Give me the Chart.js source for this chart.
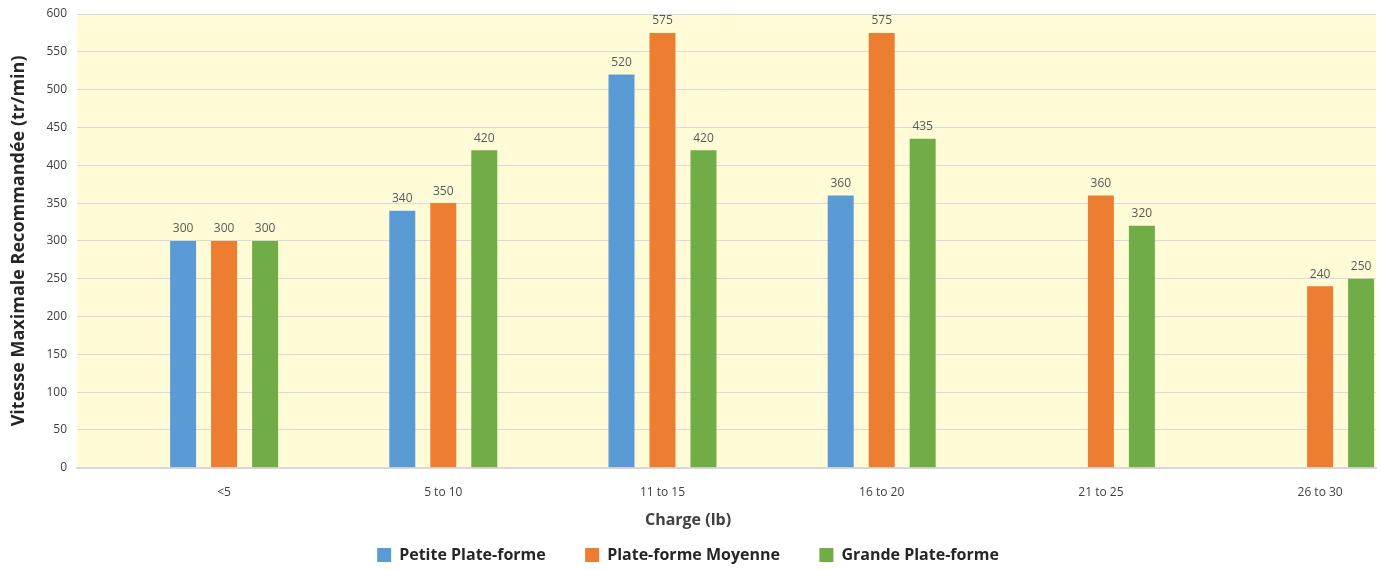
<!DOCTYPE html>
<html>
<head>
<meta charset="utf-8">
<script src="https://cdn.jsdelivr.net/npm/chart.js@4/dist/chart.umd.min.js"></script>
<style>
  html, body { margin: 0; padding: 0; background: #fff; }
  #wrap { width: 1386px; height: 570px; }
</style>
</head>
<body>
<div id="wrap"><canvas id="speedChart"></canvas></div>
<script>
const categories = ['<5', '5 to 10', '11 to 15', '16 to 20', '21 to 25', '26 to 30'];
const petite = [300, 340, 520, 360, null, null];
const moyenne = [300, 350, 575, 575, 360, 240];
const grande = [300, 420, 420, 435, 320, 250];
const seriesNames = ['Petite Plate-forme', 'Plate-forme Moyenne', 'Grande Plate-forme'];
const yTicks = [0, 50, 100, 150, 200, 250, 300, 350, 400, 450, 500, 550, 600];

const FONT = '"Open Sans", sans-serif';

const toPoints = (arr) => arr.map((v, i) => ({ x: i, y: v }));

// yellow plot background
const plotBg = {
  id: 'plotBg',
  beforeDraw(chart) {
    const { ctx, chartArea: a } = chart;
    ctx.save();
    ctx.fillStyle = '#FEFBD6';
    ctx.fillRect(a.left, a.top, a.right - a.left, a.bottom - a.top);
    ctx.restore();
  }
};

// value labels above each bar
const valueLabels = {
  id: 'valueLabels',
  afterDatasetsDraw(chart) {
    const ctx = chart.ctx;
    ctx.save();
    ctx.font = '12px ' + FONT;
    ctx.fillStyle = '#595959';
    ctx.textAlign = 'center';
    ctx.textBaseline = 'bottom';
    chart.data.datasets.forEach((ds, i) => {
      chart.getDatasetMeta(i).data.forEach((bar, j) => {
        const v = ds.data[j].y;
        if (v == null) return;
        ctx.fillText(v, bar.x, bar.y - 6);
      });
    });
    ctx.restore();
  }
};

const ctx = document.getElementById('speedChart').getContext('2d');

new Chart(ctx, {
  type: 'bar',
  data: {
    datasets: [
      { label: seriesNames[0], data: toPoints(petite), backgroundColor: '#5B9BD5' },
      { label: seriesNames[1], data: toPoints(moyenne), backgroundColor: '#ED7D31' },
      { label: seriesNames[2], data: toPoints(grande), backgroundColor: '#70AD47' }
    ]
  },
  options: {
    responsive: true,
    maintainAspectRatio: false,
    animation: false,
    categoryPercentage: 0.561,
    barPercentage: 0.634,
    layout: { padding: { top: 14, right: 10, bottom: -3, left: 0 } },
    scales: {
      x: {
        type: 'linear',
        offset: false,
        min: -0.671,
        max: 5.255,
        afterBuildTicks: (s) => { s.ticks = categories.map((c, i) => ({ value: i })); },
        afterFit: (s) => { s.height = 34; },
        grid: { display: false, drawTicks: false, offset: false },
        border: { color: '#D9D9D9', width: 2 },
        ticks: {
          padding: 18,
          color: '#404040',
          font: { family: FONT, size: 12 },
          callback: (v) => categories[v] ?? ''
        }
      },
      y: {
        min: 0,
        max: 600,
        afterBuildTicks: (s) => { s.ticks = yTicks.map(v => ({ value: v })); },
        afterFit: (s) => { s.width = 77; s.paddingTop = 0; },
        grid: { color: '#D9D9D9', drawTicks: false },
        border: { display: false },
        ticks: {
          padding: 10,
          color: '#404040',
          font: { family: FONT, size: 12 }
        },
        title: {
          display: true,
          text: 'Vitesse Maximale Recommandée (tr/min)',
          color: '#262626',
          font: { family: FONT, size: 18, weight: 'bold' },
          padding: { top: 8, bottom: 0 }
        }
      }
    },
    plugins: {
      title: {
        display: true,
        position: 'bottom',
        weight: 500,
        text: 'Charge (lb)',
        color: '#404040',
        font: { family: FONT, size: 16, weight: 'bold' },
        padding: { top: 9, bottom: 15 }
      },
      legend: {
        position: 'bottom',
        labels: {
          boxWidth: 14,
          boxHeight: 14,
          padding: 2,
          color: '#262626',
          font: { family: FONT, size: 16, weight: 'bold' },
          // trailing spaces widen the gap between the three items
          generateLabels: (chart) => {
            const items = Chart.defaults.plugins.legend.labels.generateLabels(chart);
            items.forEach((it, i) => {
              if (i < items.length - 1) it.text = it.text + '         ';
            });
            return items;
          }
        }
      },
      tooltip: { enabled: false }
    }
  },
  plugins: [plotBg, valueLabels]
});
</script>
</body>
</html>
